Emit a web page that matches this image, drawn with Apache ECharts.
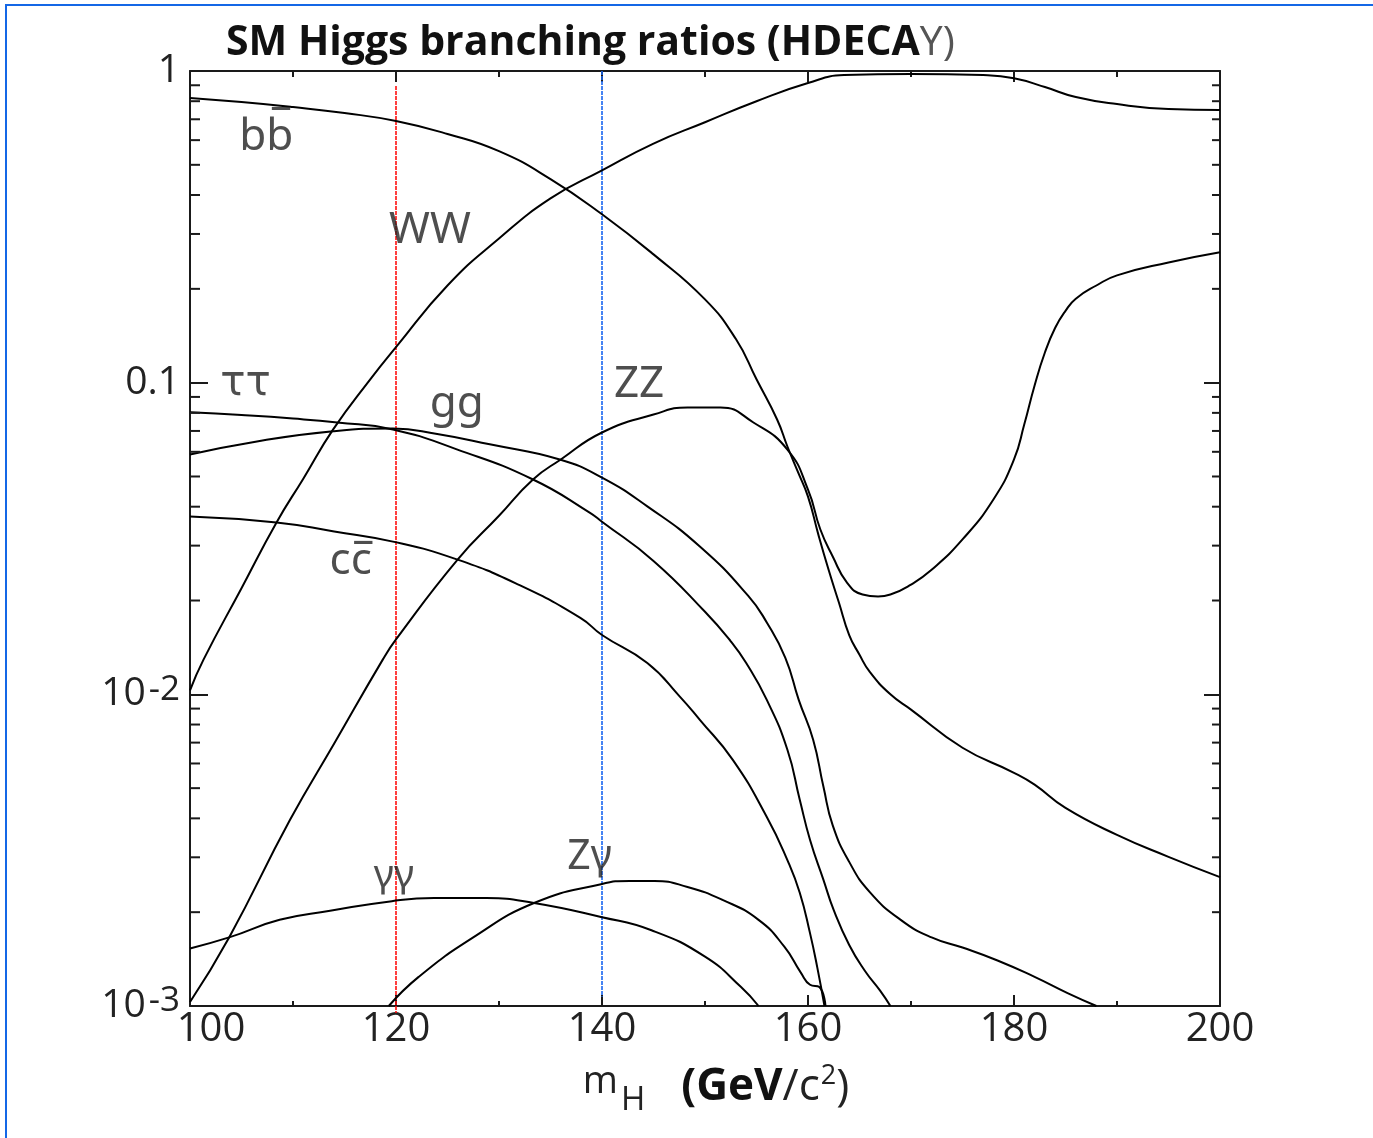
<!DOCTYPE html>
<html>
<head>
<meta charset="utf-8">
<script src="https://cdn.jsdelivr.net/npm/echarts@6/dist/echarts.min.js"></script>
<style>
  html, body { margin: 0; padding: 0; background: #ffffff; }
  #chart { width: 1373px; height: 1138px; }
</style>
</head>
<body>
<div id="chart"></div>
<script>
// Higgs mass grid points (GeV/c^2) and branching ratios for each decay channel
const bbMass = [100, 105, 110, 115, 120, 125, 130, 135, 140, 145, 150, 153, 155, 157, 158, 159, 160, 161, 162, 163, 164, 165, 166, 168, 170, 175, 180, 182, 185, 190, 195, 200];
const bbBR   = [0.819, 0.795, 0.766, 0.733, 0.691, 0.628, 0.553, 0.450, 0.347, 0.258, 0.185, 0.138, 0.1025, 0.0762, 0.0624, 0.0519, 0.0431, 0.0326, 0.0251, 0.0197, 0.0155, 0.0134, 0.0118, 0.0100, 0.00893, 0.00674, 0.00560, 0.00513, 0.00432, 0.00354, 0.00301, 0.00259];

const wwMass = [100, 101.3, 105, 108.4, 111, 113.9, 117.5, 120, 125, 130, 135, 140, 145, 150, 155, 160, 163.5, 170, 177, 180, 183, 186, 190, 195, 200];
const wwBR   = [0.0103, 0.0129, 0.0219, 0.0356, 0.0492, 0.0708, 0.1025, 0.130, 0.205, 0.290, 0.390, 0.480, 0.585, 0.685, 0.800, 0.915, 0.970, 0.978, 0.970, 0.948, 0.888, 0.825, 0.783, 0.755, 0.749];

const zzMass = [100, 103.8, 109.7, 114, 118.7, 120, 126, 130, 133.3, 136, 140, 145, 148.3, 151.5, 154.7, 158, 160, 161.2, 162.4, 163.8, 165.3, 166.8, 168, 170, 172, 175, 178, 180, 181, 182, 183, 184, 185, 186, 188, 190, 195, 200];
const zzBR   = [0.00103, 0.00166, 0.00395, 0.00695, 0.0129, 0.0150, 0.0271, 0.0374, 0.0489, 0.0567, 0.0692, 0.0790, 0.0833, 0.0833, 0.0745, 0.0610, 0.0454, 0.0338, 0.0277, 0.0228, 0.0209, 0.0206, 0.0209, 0.0225, 0.0251, 0.0314, 0.0422, 0.0567, 0.0735, 0.0980, 0.125, 0.150, 0.170, 0.186, 0.205, 0.221, 0.243, 0.262];

const tautauMass = [100, 105, 110, 114.3, 119.7, 125.9, 133.3, 138.8, 140, 145, 150, 152.5, 154, 156, 158, 159.2, 160.2, 161.5, 162.5, 164, 165.5, 167, 168];
const tautauBR   = [0.0803, 0.0787, 0.0767, 0.0745, 0.0708, 0.0611, 0.0489, 0.0383, 0.0358, 0.0268, 0.0184, 0.0148, 0.0126, 0.0096, 0.00664, 0.00459, 0.00341, 0.00254, 0.00203, 0.00157, 0.00130, 0.00112, 0.00100];

const ggMass = [100, 106.5, 113.9, 119.7, 124, 129.1, 135.9, 140, 144.4, 149.5, 154.2, 156, 157.8, 159.1, 160.5, 161.5, 162.4, 164, 166, 169, 172, 175, 178.4, 182, 185.2, 188];
const ggBR   = [0.0588, 0.0648, 0.0698, 0.0713, 0.0684, 0.0634, 0.0567, 0.0496, 0.0401, 0.0298, 0.0207, 0.0170, 0.0131, 0.0096, 0.00715, 0.00505, 0.0038, 0.0029, 0.00232, 0.00189, 0.00166, 0.00154, 0.00140, 0.00124, 0.00110, 0.00100];

const ccMass = [100, 108.4, 114, 119.7, 125.9, 132, 137.9, 140, 144.4, 147.6, 149.5, 152.7, 156, 158, 159.2, 160.2, 160.9, 161.6];
const ccBR   = [0.0372, 0.0356, 0.0333, 0.0309, 0.0271, 0.0224, 0.0176, 0.0155, 0.0126, 0.0098, 0.00828, 0.00616, 0.00404, 0.00294, 0.00231, 0.00171, 0.00133, 0.00100];

const gamgamMass = [100, 103.8, 108.7, 113.6, 119.6, 123.7, 128.8, 133.4, 139.9, 144.8, 150, 153.5, 155.2];
const gamgamBR   = [0.00153, 0.00166, 0.00189, 0.00202, 0.00217, 0.00222, 0.00222, 0.00214, 0.00193, 0.00175, 0.00144, 0.00115, 0.00100];

const zgamMass = [119.3, 122.2, 127.5, 133.4, 139.9, 142.7, 145.1, 148.3, 151.7, 155.2, 157.7, 159.3, 160.2, 161.1, 161.7];
const zgamBR   = [0.00100, 0.00124, 0.00166, 0.00214, 0.00246, 0.00252, 0.00252, 0.00241, 0.00219, 0.00189, 0.00155, 0.00128, 0.00117, 0.00115, 0.00100];

// Reference masses marked by vertical lines, with the BR span each line covers
const markMass   = [120, 140];
const markTopBR  = [0.895, 1.0];
const markLowBR  = [0.000949, 0.00107];

// Channel labels and where they sit (mass, BR)
const channelNames = ['bb\u0305', 'WW', '\u03c4\u03c4', 'gg', 'ZZ', 'cc\u0305', '\u03b3\u03b3', 'Z\u03b3'];
const channelLabelMass = [107.4, 123.3, 105.4, 125.9, 143.6, 115.6, 119.8, 138.8];
const channelLabelBR   = [0.614, 0.308, 0.0987, 0.0852, 0.0987, 0.0267, 0.00261, 0.00299];

// Axis ticks
const xTickValues = [100, 120, 140, 160, 180, 200];
const yTickLabels = ['10^-3', '10^-2', '0.1', '1'];
const yMinorTicks = [0.002, 0.003, 0.004, 0.005, 0.006, 0.007, 0.008, 0.009,
                     0.02, 0.03, 0.04, 0.05, 0.06, 0.07, 0.08, 0.09,
                     0.2, 0.3, 0.4, 0.5, 0.6, 0.7, 0.8, 0.9];

const FONT = 'Open Sans';
const INK = '#1a1a1a';

// label look per channel (Greek labels use their own face and size)
const labelStyleFor = {
  '\u03c4\u03c4': { fontFamily: 'DejaVu Sans', fontSize: 42 },
  '\u03b3\u03b3': { fontFamily: 'Noto Sans', fontSize: 39 },
  'Z\u03b3': { fontFamily: 'Noto Sans', fontSize: 41 }
};

function pairs(ms, vs) { return ms.map(function (m, i) { return [m, vs[i]]; }); }

function curve(name, ms, vs) {
  return {
    name: name, type: 'line', data: pairs(ms, vs),
    showSymbol: false, smooth: 0.5,
    lineStyle: { color: '#000', width: 2 }, z: 3, silent: true
  };
}

function yLabel(v) {
  const e = Math.round(Math.log10(v));
  const t = yTickLabels[e + 3];
  if (t.indexOf('^') >= 0) {
    const p = t.split('^');
    return '{n|' + p[0] + '}{s|' + p[1] + '}';
  }
  return '{n|' + t + '}';
}

const chart = echarts.init(document.getElementById('chart'), null, { renderer: 'canvas' });

const axisLineStyle = { color: INK, width: 2 };

const option = {
  backgroundColor: '#ffffff',
  animation: false,
  title: {
    left: 221, top: 18,
    text: '{b|SM Higgs branching ratios (HDECA}{r|Y)}',
    textStyle: {
      rich: {
        b: { fontFamily: FONT, fontSize: 41, fontWeight: 'bold', color: '#111' },
        r: { fontFamily: FONT, fontSize: 41, fontWeight: 'normal', color: '#555' }
      }
    }
  },
  grid: { left: 190, right: 153, top: 71, bottom: 132, containLabel: false, outerBoundsMode: 'none' },
  xAxis: [{
    type: 'value', min: 100, max: 200, interval: 20, position: 'bottom',
    axisLine: { onZero: false, lineStyle: axisLineStyle },
    axisTick: { inside: true, length: 11, lineStyle: { color: INK, width: 2 } },
    minorTick: { show: true, splitNumber: 2, length: 5, lineStyle: { color: INK, width: 2 } },
    splitLine: { show: false },
    axisLabel: {
      margin: 4, fontFamily: FONT, fontSize: 40, color: '#222',
      formatter: function (v) { return v === xTickValues[0] ? '{first|' + v + '}' : '{n|' + v + '}'; },
      rich: {
        n: { fontFamily: FONT, fontSize: 40, color: '#222' },
        first: { fontFamily: FONT, fontSize: 40, color: '#222', padding: [0, 0, 0, 42] }
      }
    },
    name: '{m|m}{h|H}{g|(GeV}{r|/c}{p|2}{r|)}',
    nameLocation: 'middle', nameGap: 41, nameMoveOverlap: false,
    nameTextStyle: {
      padding: [0, 0, 0, 22],
      rich: {
        m: { fontFamily: FONT, fontSize: 38, color: '#222', lineHeight: 70 },
        h: { fontFamily: FONT, fontSize: 33, color: '#222', lineHeight: 70, verticalAlign: 'bottom', padding: [0, 36, 0, 3] },
        g: { fontFamily: FONT, fontSize: 44, fontWeight: 'bold', color: '#111', lineHeight: 70, padding: [10, 0, 0, 0] },
        r: { fontFamily: FONT, fontSize: 44, color: '#222', lineHeight: 70, padding: [10, 0, 0, 0] },
        p: { fontFamily: FONT, fontSize: 27, color: '#222', lineHeight: 70, verticalAlign: 'top', padding: [16, 0, 0, 1] }
      }
    }
  }, {
    type: 'value', min: 100, max: 200, interval: 20, position: 'top',
    axisLine: { onZero: false, lineStyle: axisLineStyle },
    axisTick: { inside: true, length: 11, lineStyle: { color: INK, width: 2 } },
    minorTick: { show: true, splitNumber: 2, length: 6, lineStyle: { color: INK, width: 2 } },
    splitLine: { show: false },
    axisLabel: { show: false }
  }],
  yAxis: [{
    type: 'log', logBase: 10, min: 0.001, max: 1, position: 'left',
    axisLine: { onZero: false, lineStyle: axisLineStyle },
    axisTick: { inside: true, length: 18, lineStyle: { color: INK, width: 2 } },
    splitLine: { show: false },
    axisLabel: {
      margin: 10, fontFamily: FONT, fontSize: 38, color: '#222',
      formatter: yLabel,
      rich: {
        n: { fontFamily: FONT, fontSize: 39, color: '#222', lineHeight: 44 },
        s: { fontFamily: FONT, fontSize: 35, color: '#222', lineHeight: 44, verticalAlign: 'top', padding: [0, 0, 0, 3] }
      }
    }
  }, {
    type: 'log', logBase: 10, min: 0.001, max: 1, position: 'right',
    axisLine: { onZero: false, lineStyle: axisLineStyle },
    axisTick: { inside: true, length: 16, lineStyle: { color: INK, width: 2 } },
    splitLine: { show: false },
    axisLabel: { show: false }
  }],
  graphic: [
    { type: 'line', shape: { x1: 5, y1: 5, x2: 1373, y2: 5 }, style: { stroke: '#1467e6', lineWidth: 2 }, silent: true },
    { type: 'line', shape: { x1: 6, y1: 5, x2: 6, y2: 1138 }, style: { stroke: '#1467e6', lineWidth: 2 }, silent: true }
  ],
  series: [
    {
      name: 'mH = 120', type: 'line', clip: false, silent: true, showSymbol: false, z: 2,
      data: [[markMass[0], markTopBR[0]], [markMass[0], markLowBR[0]]],
      lineStyle: { color: '#ff1010', width: 1.6, type: [4, 1] }
    },
    {
      name: 'mH = 140', type: 'line', clip: false, silent: true, showSymbol: false, z: 2,
      data: [[markMass[1], markTopBR[1]], [markMass[1], markLowBR[1]]],
      lineStyle: { color: '#1a66f0', width: 1.6, type: [4, 1] }
    },
    curve('bb', bbMass, bbBR),
    curve('WW', wwMass, wwBR),
    curve('ZZ', zzMass, zzBR),
    curve('tautau', tautauMass, tautauBR),
    curve('gg', ggMass, ggBR),
    curve('cc', ccMass, ccBR),
    curve('gamgam', gamgamMass, gamgamBR),
    curve('Zgam', zgamMass, zgamBR),
    {
      name: 'minor ticks', type: 'custom', coordinateSystem: 'cartesian2d', silent: true, clip: false, z: 4,
      data: yMinorTicks.map(function (v) { return [100, v]; }),
      renderItem: function (params, api) {
        const v = api.value(1);
        const l = api.coord([100, v]);
        const r = api.coord([200, v]);
        return {
          type: 'group', children: [
            { type: 'line', shape: { x1: l[0], y1: l[1], x2: l[0] + 10, y2: l[1] }, style: { stroke: INK, lineWidth: 2 } },
            { type: 'line', shape: { x1: r[0] - 8, y1: r[1], x2: r[0], y2: r[1] }, style: { stroke: INK, lineWidth: 2 } }
          ]
        };
      }
    },
    {
      name: 'channel labels', type: 'scatter', silent: true, symbolSize: 0, z: 5,
      data: channelNames.map(function (n, i) {
        const item = { name: n, value: [channelLabelMass[i], channelLabelBR[i]] };
        if (labelStyleFor[n]) item.label = labelStyleFor[n];
        return item;
      }),
      label: {
        show: true, position: 'inside', formatter: '{b}',
        fontFamily: 'Noto Sans', fontSize: 44, color: '#222'
      }
    }
  ]
};

chart.setOption(option);
</script>
</body>
</html>
